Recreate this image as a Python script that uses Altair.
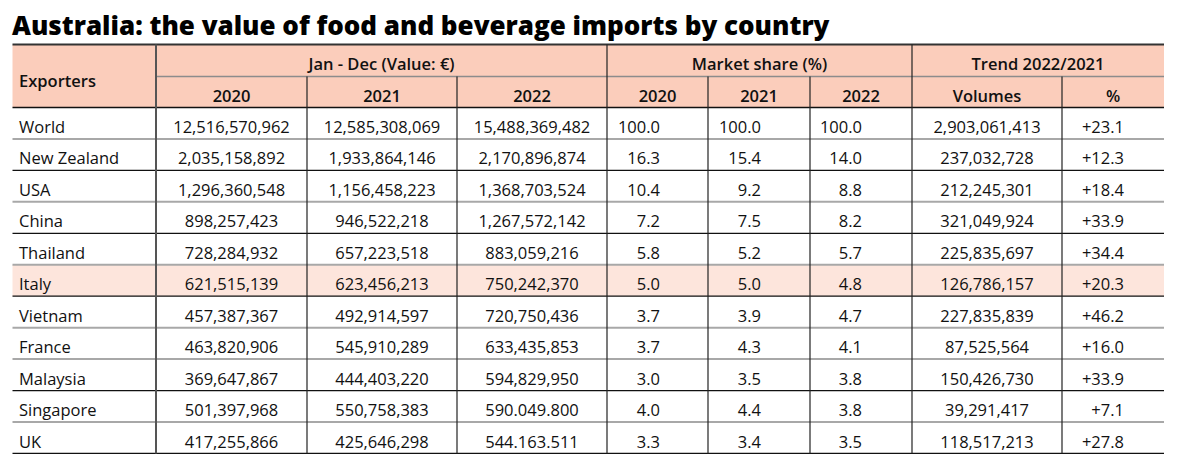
import altair as alt
import pandas as pd

# ---------------- data ----------------
TITLE = "Australia: the value of food and beverage imports by country"
countries = ["World", "New Zealand", "USA", "China", "Thailand", "Italy",
             "Vietnam", "France", "Malaysia", "Singapore", "UK"]
value_2020 = ["12,516,570,962", "2,035,158,892", "1,296,360,548", "898,257,423",
              "728,284,932", "621,515,139", "457,387,367", "463,820,906",
              "369,647,867", "501,397,968", "417,255,866"]
value_2021 = ["12,585,308,069", "1,933,864,146", "1,156,458,223", "946,522,218",
              "657,223,518", "623,456,213", "492,914,597", "545,910,289",
              "444,403,220", "550,758,383", "425,646,298"]
value_2022 = ["15,488,369,482", "2,170,896,874", "1,368,703,524", "1,267,572,142",
              "883,059,216", "750,242,370", "720,750,436", "633,435,853",
              "594,829,950", "590.049.800", "544.163.511"]
share_2020 = ["100.0", "16.3", "10.4", "7.2", "5.8", "5.0", "3.7", "3.7", "3.0", "4.0", "3.3"]
share_2021 = ["100.0", "15.4", "9.2", "7.5", "5.2", "5.0", "3.9", "4.3", "3.5", "4.4", "3.4"]
share_2022 = ["100.0", "14.0", "8.8", "8.2", "5.7", "4.8", "4.7", "4.1", "3.8", "3.8", "3.5"]
volumes = ["2,903,061,413", "237,032,728", "212,245,301", "321,049,924", "225,835,697",
           "126,786,157", "227,835,839", "87,525,564", "150,426,730", "39,291,417",
           "118,517,213"]
trend_pct = ["+23.1", "+12.3", "+18.4", "+33.9", "+34.4", "+20.3", "+46.2",
             "+16.0", "+33.9", "+7.1", "+27.8"]
highlight = "Italy"

group_labels = ["Jan - Dec (Value: \u20ac)", "Market share (%)", "Trend 2022/2021"]
sub_labels = ["2020", "2021", "2022", "2020", "2021", "2022", "Volumes", "%"]
corner_label = "Exporters"

# ---------------- layout (page pixels) ----------------
W, H = 1161, 446
LEFT, RIGHT = 12.5, 1164
EDGES = [12.5, 156, 307, 457, 607, 708, 810, 912, 1062, 1164]
TOP, MID, HBOT = 44.5, 76.5, 107.5
ROW_H = 31.45
BASE = 25.5            # baseline offset inside a row
FONT = "Open Sans"
BODY_SIZE = 16.5
HEADER_BG = "#fbcdbb"
HL_BG = "#fde5dc"
SEP_STYLE = ["g", "k", "g", "k", "g", "k", "g", "g", "k", "g", "k"]

xs = alt.Scale(domain=[8, 8 + W], range=[0, W], nice=False, zero=False)
ys = alt.Scale(domain=[8, 8 + H], range=[0, H], nice=False, zero=False)


def X(f):
    return alt.X(f, type="quantitative", scale=xs, axis=None)


def Y(f):
    return alt.Y(f, type="quantitative", scale=ys, axis=None)


n = len(countries)
row_top = [HBOT + i * ROW_H for i in range(n)]
bottom = HBOT + n * ROW_H

# ---------- backgrounds ----------
rects = [dict(x=LEFT, x2=RIGHT, y=TOP, y2=HBOT, c=HEADER_BG)]
for i, c in enumerate(countries):
    if c == highlight:
        rects.append(dict(x=LEFT, x2=RIGHT, y=row_top[i], y2=row_top[i] + ROW_H, c=HL_BG))
rect_layer = alt.Chart(pd.DataFrame(rects)).mark_rect().encode(
    x=X("x"), x2="x2", y=Y("y"), y2="y2", color=alt.Color("c:N", scale=None))

# ---------- lines ----------
lines = []
lines.append(dict(x=LEFT, x2=RIGHT, y=TOP, y2=TOP, c="#333333", w=2))
lines.append(dict(x=EDGES[1], x2=RIGHT, y=MID, y2=MID, c="#8c8c8c", w=1.5))
lines.append(dict(x=LEFT, x2=RIGHT, y=HBOT, y2=HBOT, c="#111111", w=1.5))
for i in range(n):
    yy = row_top[i] + ROW_H
    if SEP_STYLE[i] == "g":
        lines.append(dict(x=LEFT, x2=RIGHT, y=yy, y2=yy, c="#a8a8a8", w=2))
    else:
        lines.append(dict(x=LEFT, x2=RIGHT, y=yy, y2=yy, c="#111111", w=1.2))
# verticals
lines.append(dict(x=EDGES[1], x2=EDGES[1], y=TOP, y2=bottom, c="#555555", w=2))
for k in [4, 7]:
    lines.append(dict(x=EDGES[k], x2=EDGES[k], y=TOP, y2=bottom, c="#222222", w=1.2))
for k in [2, 3, 5, 6, 8]:
    lines.append(dict(x=EDGES[k], x2=EDGES[k], y=MID, y2=bottom, c="#222222", w=1.2))
line_layer = alt.Chart(pd.DataFrame(lines)).mark_rule().encode(
    x=X("x"), x2="x2", y=Y("y"), y2="y2",
    color=alt.Color("c:N", scale=None),
    strokeWidth=alt.StrokeWidth("w:Q", scale=None))

# ---------- header text ----------
hdr = []
hdr.append(dict(t=corner_label, x=19, y=86.5, a="left"))
spans = [(EDGES[1], EDGES[4]), (EDGES[4], EDGES[7]), (EDGES[7], EDGES[9])]
for lab, (a, b) in zip(group_labels, spans):
    hdr.append(dict(t=lab, x=(a + b) / 2, y=TOP + BASE, a="center"))
for k, lab in enumerate(sub_labels):
    hdr.append(dict(t=lab, x=(EDGES[k + 1] + EDGES[k + 2]) / 2, y=MID + BASE, a="center"))
hdr_df = pd.DataFrame(hdr)
hdr_left = alt.Chart(hdr_df[hdr_df.a == "left"]).mark_text(
    align="left", baseline="alphabetic", font=FONT, fontSize=16.5, fontWeight=600,
    color="#111111").encode(x=X("x"), y=Y("y"), text="t:N")
hdr_center = alt.Chart(hdr_df[hdr_df.a == "center"]).mark_text(
    align="center", baseline="alphabetic", font=FONT, fontSize=16.5, fontWeight=600,
    color="#111111").encode(x=X("x"), y=Y("y"), text="t:N")

# ---------- body text ----------
centers = [(EDGES[k] + EDGES[k + 1]) / 2 for k in range(len(EDGES) - 1)]
RIGHT_ANCHORS = [660, 761, 862, 1124]
body_l, body_c, body_r = [], [], []
for i in range(n):
    yb = row_top[i] + BASE
    body_l.append(dict(t=countries[i], x=19, y=yb))
    for col, vals in zip([1, 2, 3, 7], [value_2020, value_2021, value_2022, volumes]):
        body_c.append(dict(t=vals[i], x=centers[col], y=yb))
    for anc, vals in zip(RIGHT_ANCHORS, [share_2020, share_2021, share_2022, trend_pct]):
        body_r.append(dict(t=vals[i], x=anc, y=yb))


def txt(rows, align):
    return alt.Chart(pd.DataFrame(rows)).mark_text(
        align=align, baseline="alphabetic", font=FONT, fontSize=BODY_SIZE,
        fontWeight="normal", color="#111111").encode(x=X("x"), y=Y("y"), text="t:N")


# ---------- title ----------
title_layer = alt.Chart(pd.DataFrame([dict(t=TITLE, x=12, y=34.5)])).mark_text(
    align="left", baseline="alphabetic", font=FONT, fontSize=26, fontWeight=800,
    color="#000000").encode(x=X("x"), y=Y("y"), text="t:N")

chart = alt.layer(
    rect_layer, line_layer, hdr_left, hdr_center,
    txt(body_l, "left"), txt(body_c, "center"), txt(body_r, "right"),
    title_layer,
).properties(width=W, height=H, padding=0).configure_view(stroke=None)

chart.save("out.html", embed_options={"renderer": "svg", "actions": False})
